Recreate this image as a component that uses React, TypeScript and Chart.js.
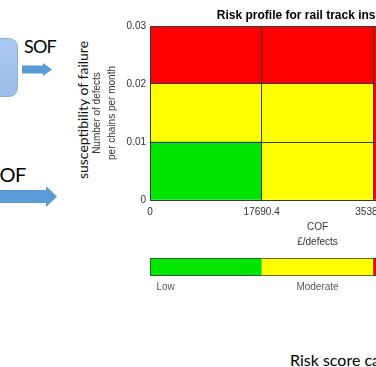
import React, { useEffect, useRef } from "react";
import { Chart, registerables } from "chart.js";

Chart.register(...registerables);

// ---- data ----
const columns = ["0–17690.4", "17690.4–35380.8", "35380.8–53071.2"];
const xTickValues = [0, 17690.4, 35380.8, 53071.2];
const xTickLabels = ["0", "17690.4", "35380.8", "53071.2"];
const yTickValues = [0, 0.01, 0.02, 0.03];
const yTickLabels = ["0", "0.01", "0.02", "0.03"];
const rowNames = ["0–0.01", "0.01–0.02", "0.02–0.03"];
const rowBands = [
  [0.01, 0.01, 0.01],
  [0.01, 0.01, 0.01],
  [0.01, 0.01, 0.01],
];
const rowRisk = [
  ["Low", "Moderate", "High"],
  ["Moderate", "Moderate", "High"],
  ["High", "High", "High"],
];
const riskLevels = ["Low", "Moderate", "High"];
const riskColors: Record<string, string> = {
  Low: "#00e600",
  Moderate: "#ffff00",
  High: "#ff0000",
};
const colorbarSpan = [1, 1, 1];
const colorbarTickValues = [0.14, 1.5, 2.86];
const chartTitle = "Risk profile for rail track inspection";
const yTitle = ["Number of defects", "per chains per month"];
const xTitle = ["COF", "£/defects"];

Chart.defaults.font.family = "'Liberation Sans', Arial, sans-serif";

export default function App() {
  const mainRef = useRef<HTMLCanvasElement | null>(null);
  const barRef = useRef<HTMLCanvasElement | null>(null);

  useEffect(() => {
    const gridColor = "#383838";
    const tickFont = { size: 10 };
    const main = new Chart(mainRef.current as HTMLCanvasElement, {
      type: "bar",
      data: {
        labels: columns,
        datasets: rowBands.map((band, i) => ({
          label: rowNames[i],
          data: band,
          backgroundColor: rowRisk[i].map((r) => riskColors[r]),
          borderWidth: 0,
          categoryPercentage: 1,
          barPercentage: 1,
          xAxisID: "x",
          yAxisID: "y",
        })),
      },
      options: {
        animation: false,
        responsive: false,
        maintainAspectRatio: false,
        layout: { padding: { left: 0, right: 35, top: 0, bottom: 0 } },
        plugins: {
          legend: { display: false },
          tooltip: { enabled: false },
          title: {
            display: true,
            text: chartTitle,
            fullSize: false,
            color: "#000",
            font: { size: 12, weight: "bold" },
            padding: { top: 8, bottom: 3.6 },
          },
        },
        scales: {
          x: { type: "category", stacked: true, display: false },
          x2: {
            type: "linear",
            position: "bottom",
            offset: false,
            min: 0,
            max: xTickValues[xTickValues.length - 1],
            afterBuildTicks: (ax: any) => {
              ax.ticks = xTickValues.map((v) => ({ value: v }));
            },
            afterFit: (ax: any) => {
              ax.height = 50;
            },
            ticks: {
              autoSkip: false,
              maxRotation: 0,
              font: tickFont,
              color: "#333",
              padding: 6,
              callback: (_v: any, i: number) => xTickLabels[i],
            },
            grid: { color: gridColor, drawTicks: false, offset: false, z: 1 },
            border: { display: true, color: gridColor, z: 1 },
            title: {
              display: true,
              text: xTitle,
              color: "#333",
              font: { size: 10, lineHeight: 1.5 },
              padding: { top: 0, bottom: 0 },
            },
          },
          y: {
            type: "linear",
            position: "left",
            stacked: true,
            min: 0,
            max: yTickValues[yTickValues.length - 1],
            afterBuildTicks: (ax: any) => {
              ax.ticks = yTickValues.map((v) => ({ value: v }));
            },
            afterFit: (ax: any) => {
              ax.width = 150;
            },
            ticks: {
              font: tickFont,
              color: "#333",
              padding: 4,
              callback: (_v: any, i: number) => yTickLabels[i],
            },
            grid: { color: gridColor, drawTicks: false, z: 1 },
            border: { display: true, color: gridColor, z: 1 },
            title: {
              display: true,
              text: yTitle,
              color: "#333",
              font: { size: 10, lineHeight: 1.5 },
              padding: { top: 90, bottom: 0 },
            },
          },
        },
      },
    } as any);

    const bar = new Chart(barRef.current as HTMLCanvasElement, {
      type: "bar",
      data: {
        labels: ["Risk"],
        datasets: riskLevels.map((lvl, i) => ({
          label: lvl,
          data: [colorbarSpan[i]],
          backgroundColor: riskColors[lvl],
          borderColor: gridColor,
          borderSkipped: false,
          borderWidth: {
            top: 1,
            bottom: 1,
            left: i === 0 || i === 2 ? 1 : 0,
            right: i === riskLevels.length - 1 ? 1 : 0,
          },
          categoryPercentage: 1,
          barPercentage: 1,
        })),
      },
      options: {
        indexAxis: "y",
        animation: false,
        responsive: false,
        maintainAspectRatio: false,
        layout: { padding: { left: 150, right: 35, top: 8, bottom: 0 } },
        plugins: { legend: { display: false }, tooltip: { enabled: false } },
        scales: {
          y: { type: "category", stacked: true, display: false },
          x: {
            type: "linear",
            stacked: true,
            offset: false,
            min: 0,
            max: colorbarSpan.reduce((a, b) => a + b, 0),
            afterBuildTicks: (ax: any) => {
              ax.ticks = colorbarTickValues.map((v) => ({ value: v }));
            },
            afterFit: (ax: any) => {
              ax.height = 24;
            },
            ticks: {
              autoSkip: false,
              maxRotation: 0,
              font: tickFont,
              color: "#555",
              padding: 5,
              callback: (_v: any, i: number) => riskLevels[i],
            },
            grid: { display: false, drawTicks: false },
            border: { display: false },
          },
        },
      },
    } as any);

    return () => {
      main.destroy();
      bar.destroy();
    };
  }, []);

  const lato = "Lato, 'Open Sans', sans-serif";
  return (
    <div
      style={{
        position: "fixed",
        left: 0,
        top: 0,
        width: 376,
        height: 367,
        overflow: "hidden",
        background: "#fff",
      }}
    >
      {/* left diagram pieces */}
      <div
        style={{
          position: "absolute",
          left: -20,
          top: 38,
          width: 38,
          height: 59,
          borderRadius: 9,
          background: "linear-gradient(#abc8f0, #9cbde9)",
          border: "1px solid #8aaede",
          boxSizing: "border-box",
        }}
      />
      <div
        style={{
          position: "absolute",
          left: 24,
          top: 37,
          fontFamily: lato,
          fontSize: 18,
          lineHeight: "18px",
          letterSpacing: -0.8,
          color: "#000",
          whiteSpace: "nowrap",
        }}
      >
        SOF
      </div>
      <svg
        style={{ position: "absolute", left: 22, top: 63 }}
        width={31}
        height={14}
      >
        <polygon
          points="0,2.5 21,2.5 21,0 30,6.5 21,13 21,10.5 0,10.5"
          fill="#5b9bd5"
        />
      </svg>
      <div
        style={{
          position: "absolute",
          left: -13,
          top: 164,
          fontFamily: lato,
          fontSize: 20,
          lineHeight: "20px",
          letterSpacing: -0.6,
          color: "#000",
          whiteSpace: "nowrap",
        }}
      >
        COF
      </div>
      <svg
        style={{ position: "absolute", left: 0, top: 186 }}
        width={58}
        height={22}
      >
        <polygon points="0,4 46,4 46,0 57,10.5 46,21 46,17 0,17" fill="#5b9bd5" />
      </svg>
      <div
        style={{
          position: "absolute",
          left: 83,
          top: 110,
          transform: "translate(-50%, -50%) rotate(-90deg)",
          fontFamily: lato,
          fontSize: 14,
          lineHeight: "14px",
          color: "#111",
          whiteSpace: "nowrap",
        }}
      >
        susceptibility of failure
      </div>
      <div
        style={{
          position: "absolute",
          left: 290,
          top: 352,
          fontFamily: lato,
          fontSize: 16,
          lineHeight: "16px",
          color: "#000",
          whiteSpace: "nowrap",
        }}
      >
        Risk score calculation
      </div>

      {/* chart canvases */}
      <canvas
        ref={mainRef}
        width={520}
        height={250}
        style={{ position: "absolute", left: 0, top: 0, width: 520, height: 250 }}
      />
      <canvas
        ref={barRef}
        width={520}
        height={50}
        style={{ position: "absolute", left: 0, top: 250, width: 520, height: 50 }}
      />
    </div>
  );
}
